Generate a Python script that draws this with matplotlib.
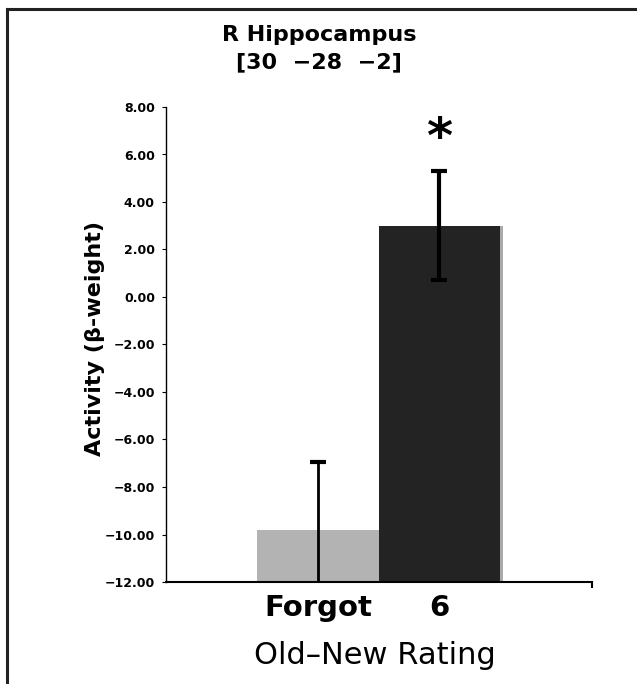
import numpy as np
import matplotlib.pyplot as plt

# data
categories = ['Forgot', '6']
means = [-9.8, 3.0]
errors = [2.85, 2.3]
bar_colors = ['#b3b3b3', '#232323']
yticks = np.arange(-12, 9, 2)

fig = plt.figure(figsize=(6.37, 6.84), dpi=100)
W, H = 637., 684.
ax = fig.add_axes([166 / W, 1 - 582 / H, (592 - 166) / W, (582 - 107) / H])

x = np.arange(len(categories))
# faint drop shadow to the right of the bars
ax.bar(x + 0.025, np.array(means) + 12, bottom=-12, width=1.0,
       color='#aaaaaa', zorder=1)
ax.bar(x, np.array(means) + 12, bottom=-12, width=1.0,
       color=bar_colors, zorder=2)

# error bars (grey one gets clipped at the axis bottom)
lws = [2, 3]
for xi, m, e, lw in zip(x, means, errors, lws):
    ax.errorbar(xi, m, yerr=e, fmt='none', ecolor='black', elinewidth=lw,
                capsize=6, capthick=3, zorder=3)

ax.text(1, means[1] + errors[1] + 1.35, '*', ha='center', va='center',
        fontsize=36, fontweight='bold', zorder=4)

ax.set_xlim(-1.25, 2.255)
ax.set_ylim(-12, 8)
ax.set_yticks(yticks)
ax.set_yticklabels([('%.2f' % v).replace('-', '\u2212') for v in yticks],
                   fontsize=9, fontweight='bold')
ax.tick_params(axis='y', direction='out', length=3, width=0.8, pad=5)
ax.set_xticks([2.255])
ax.set_xticklabels([''])
ax.tick_params(axis='x', direction='out', length=4, width=1.5)
ax.spines['top'].set_visible(False)
ax.spines['right'].set_visible(False)
ax.spines['left'].set_linewidth(1)
ax.spines['bottom'].set_linewidth(1.5)

for xi, lab in zip(x, categories):
    fig.text((318 + xi * 121.5) / W, 1 - 608 / H, lab, ha='center', va='center',
             fontsize=21, fontweight='bold')
fig.text(375 / W, 1 - 656 / H, 'Old\u2013New Rating', ha='center', va='center',
         fontsize=22)
fig.text(95 / W, 1 - 338 / H, 'Activity (\u03b2-weight)', ha='center', va='center',
         rotation=90, fontsize=16, fontweight='bold')
fig.text(319 / W, 1 - 35 / H, 'R Hippocampus', ha='center', va='center',
         fontsize=16, fontweight='bold')
fig.text(319 / W, 1 - 62 / H, '[30  \u221228  \u22122]', ha='center', va='center',
         fontsize=16, fontweight='bold')

# frame lines on the left and top edges
fig.add_artist(plt.Line2D([7 / W, 7 / W], [0, 1 - 9 / H], color='#222222', lw=2.2))
fig.add_artist(plt.Line2D([7 / W, 1], [1 - 9 / H, 1 - 9 / H], color='#222222', lw=2.2))

fig.savefig('out.png', dpi=100)
